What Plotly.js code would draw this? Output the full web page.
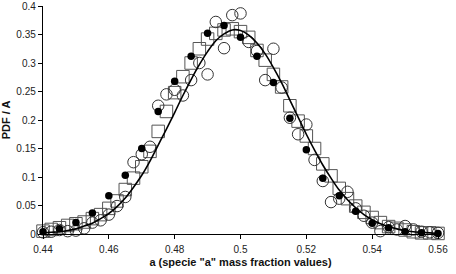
<!DOCTYPE html>
<html>
<head>
<meta charset="utf-8">
<script src="https://cdn.plot.ly/plotly-3.0.1.min.js"></script>
<style>
  html, body { margin: 0; padding: 0; background: #fff; }
  #chart { width: 456px; height: 274px; }
</style>
</head>
<body>
<div id="chart"></div>
<script>
// Mass fraction grid, fine step (open squares, open circles, fitted curve)
const xFine = [0.44, 0.4425, 0.445, 0.4475, 0.45, 0.4525, 0.455, 0.4575, 0.46, 0.4625,
  0.465, 0.4675, 0.47, 0.4725, 0.475, 0.4775, 0.48, 0.4825, 0.485, 0.4875,
  0.49, 0.4925, 0.495, 0.4975, 0.5, 0.5025, 0.505, 0.5075, 0.51, 0.5125,
  0.515, 0.5175, 0.52, 0.5225, 0.525, 0.5275, 0.53, 0.5325, 0.535, 0.5375,
  0.54, 0.5425, 0.545, 0.5475, 0.55, 0.5525, 0.555, 0.5575, 0.56];

// Mass fraction grid, coarse step (filled circles)
const xCoarse = [0.44, 0.445, 0.45, 0.455, 0.46, 0.465, 0.47, 0.475, 0.48, 0.485,
  0.49, 0.495, 0.5, 0.505, 0.51, 0.515, 0.52, 0.525, 0.53, 0.535,
  0.54, 0.545, 0.55, 0.555, 0.56];

// PDF / A values
const pdfSquares = [0.005, 0.008, 0.011, 0.015, 0.018, 0.021, 0.027, 0.034, 0.045, 0.058,
  0.078, 0.098, 0.118, 0.145, 0.180, 0.215, 0.248, 0.276, 0.300, 0.325,
  0.342, 0.352, 0.358, 0.360, 0.355, 0.345, 0.322, 0.305, 0.280, 0.258,
  0.225, 0.198, 0.172, 0.150, 0.123, 0.102, 0.080, 0.062, 0.049, 0.038,
  0.029, 0.020, 0.013, 0.010, 0.007, 0.004, 0.002, 0.002, 0.001];

const pdfOpenCircles = [0.003, 0.004, 0.007, 0.005, 0.006, 0.010, 0.020, 0.024, 0.034, 0.049,
  0.065, 0.126, 0.140, 0.153, 0.225, 0.245, 0.253, 0.243, 0.270, 0.300,
  0.280, 0.372, 0.326, 0.384, 0.387, 0.337, 0.321, 0.270, 0.325, 0.257,
  0.204, 0.175, 0.192, 0.130, 0.093, 0.056, 0.062, 0.074, 0.045, 0.032,
  0.020, 0.005, 0.012, 0.008, 0.014, 0.008, 0.004, 0.003, 0.002];

const pdfFilledCircles = [0.004, 0.009, 0.020, 0.037, 0.067, 0.103, 0.150, 0.215, 0.268, 0.312,
  0.352, 0.366, 0.345, 0.312, 0.266, 0.203, 0.148, 0.098, 0.067, 0.040,
  0.019, 0.011, 0.004, 0.002, 0.001];

const pdfCurve = [0.002, 0.003, 0.004, 0.006, 0.009, 0.014, 0.019, 0.027, 0.036, 0.048,
  0.063, 0.082, 0.103, 0.128, 0.156, 0.184, 0.213, 0.243, 0.271, 0.297,
  0.320, 0.339, 0.351, 0.358, 0.357, 0.349, 0.335, 0.316, 0.292, 0.265,
  0.235, 0.205, 0.175, 0.147, 0.121, 0.098, 0.077, 0.060, 0.046, 0.034,
  0.025, 0.018, 0.013, 0.009, 0.006, 0.004, 0.003, 0.002, 0.001];

const xTitle = 'a (specie "a" mass fraction values)';
const yTitle = 'PDF / A';

const traces = [
  {
    x: xFine, y: pdfSquares, type: 'scatter', mode: 'markers', cliponaxis: false,
    marker: { symbol: 'square-open', size: 12.5, color: '#555', line: { width: 1, color: '#555' } }
  },
  {
    x: xFine, y: pdfOpenCircles, type: 'scatter', mode: 'markers', cliponaxis: false,
    marker: { symbol: 'circle-open', size: 11.5, color: '#333', line: { width: 1, color: '#333' } }
  },
  {
    x: xFine, y: pdfCurve, type: 'scatter', mode: 'lines', cliponaxis: false,
    line: { color: '#000', width: 1.6, shape: 'spline', smoothing: 1 }
  },
  {
    x: xCoarse, y: pdfFilledCircles, type: 'scatter', mode: 'markers', cliponaxis: false,
    marker: { symbol: 'circle', size: 7.5, color: '#000' }
  }
];

const axisFont = { family: 'Liberation Sans, Arial, sans-serif', size: 10, color: '#222' };
const titleFont = { family: 'Liberation Sans, Arial, sans-serif', size: 11, color: '#111', weight: 'bold' };

const layout = {
  width: 456, height: 274,
  margin: { l: 43, r: 18, t: 6, b: 40 },
  paper_bgcolor: '#fff', plot_bgcolor: '#fff',
  showlegend: false,
  xaxis: {
    range: [0.44, 0.56], dtick: 0.02, tick0: 0.44,
    showgrid: false, zeroline: false,
    showline: true, linecolor: '#000', linewidth: 1.2,
    ticks: 'outside', ticklen: 4, tickcolor: '#000', tickwidth: 1,
    tickfont: axisFont, ticklabelstandoff: 2,
    title: { text: xTitle, font: titleFont, standoff: 4 },
    automargin: false
  },
  yaxis: {
    range: [0, 0.4], dtick: 0.05, tick0: 0,
    showgrid: false, zeroline: false,
    showline: true, linecolor: '#000', linewidth: 1.2,
    ticks: 'outside', ticklen: 4, tickcolor: '#000', tickwidth: 1,
    tickfont: axisFont,
    title: { text: yTitle, font: titleFont, standoff: 6 },
    automargin: false
  }
};

Plotly.newPlot('chart', traces, layout, { staticPlot: true, displayModeBar: false });
</script>
</body>
</html>
